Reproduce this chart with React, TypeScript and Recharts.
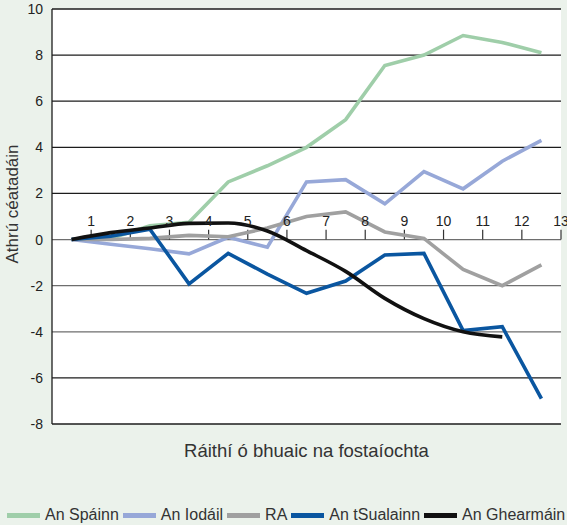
import * as React from "react"
import {
  LineChart,
  Line,
  XAxis,
  YAxis,
  CartesianGrid,
  ReferenceLine,
} from "recharts"

// ráithí (quarters) — points sit in the middle of each quarter band
const quarters = [0.5, 1.5, 2.5, 3.5, 4.5, 5.5, 6.5, 7.5, 8.5, 9.5, 10.5, 11.5, 12.5]
const quarterTicks = [1, 2, 3, 4, 5, 6, 7, 8, 9, 10, 11, 12, 13]
const yTicks = [-8, -6, -4, -2, 0, 2, 4, 6, 8, 10]

const spain = [0, 0.05, 0.6, 0.75, 2.5, 3.2, 4.0, 5.2, 7.55, 8.0, 8.85, 8.55, 8.1]
const italy = [0, -0.2, -0.4, -0.62, 0.1, -0.33, 2.5, 2.6, 1.55, 2.95, 2.2, 3.4, 4.3]
const uk = [0, 0, 0.05, 0.18, 0.12, 0.5, 1.0, 1.2, 0.33, 0.05, -1.3, -2.0, -1.1]
const sweden = [0, 0.15, 0.45, -1.92, -0.6, -1.5, -2.33, -1.8, -0.67, -0.6, -3.95, -3.78, -6.9]
const germany = [0, 0.3, 0.5, 0.7, 0.72, 0.37, -0.48, -1.38, -2.55, -3.43, -4.0, -4.22, null]

const series = [
  { key: "es", name: "An Spáinn", color: "#9fcea9", values: spain },
  { key: "it", name: "An Iodáil", color: "#97a8d8", values: italy },
  { key: "uk", name: "RA", color: "#a0a0a0", values: uk },
  { key: "se", name: "An tSualainn", color: "#0a56a0", values: sweden },
  { key: "de", name: "An Ghearmáin", color: "#111111", values: germany },
]

const data = quarters.map((q, i) => {
  const row: Record<string, number | null> = { q }
  series.forEach((s) => (row[s.key] = s.values[i]))
  return row
})

const gridColor = (v: number) => (v > 0 || v < -4 ? "#1c1c1c" : "#6e6e6e")

const font = "'Liberation Sans', Arial, sans-serif"

function LegendRow() {
  return (
    <div
      style={{
        position: "absolute",
        left: 7,
        top: 505,
        height: 20,
        display: "flex",
        alignItems: "center",
        fontFamily: font,
        fontSize: 16,
        color: "#333",
        whiteSpace: "nowrap",
      }}
    >
      {series.map((s) => (
        <div key={s.key} style={{ display: "flex", alignItems: "center", marginRight: 4 }}>
          <span style={{ width: 33, height: 5, background: s.color, marginRight: 5 }} />
          <span>{s.name}</span>
        </div>
      ))}
    </div>
  )
}

export default function App() {
  return (
    <div style={{ width: 567, height: 525, background: "#ebf2eb", position: "relative", overflow: "hidden" }}>
      <style>{"body{margin:0}"}</style>
      <LineChart
        width={567}
        height={525}
        data={data}
        margin={{ top: 9, right: 6, left: 0, bottom: 101 }}
        style={{ fontFamily: font }}
      >
        <CartesianGrid fill="#ffffff" horizontal={false} vertical={false} />
        <XAxis
          dataKey="q"
          type="number"
          domain={[0, 13]}
          ticks={quarterTicks}
          hide
        />
        <YAxis
          domain={[-8, 10]}
          ticks={yTicks}
          width={52}
          interval={0}
          tickLine={false}
          tickSize={0}
          tickMargin={9}
          axisLine={{ stroke: "#1c1c1c", strokeWidth: 1.3 }}
          tick={{ fill: "#222", fontSize: 14 }}
        />
        {yTicks.map((v) => (
          <ReferenceLine key={"g" + v} y={v} stroke={gridColor(v)} strokeWidth={1.3} />
        ))}
        {quarterTicks.map((t) => (
          <ReferenceLine
            key={"t" + t}
            segment={[
              { x: t, y: 0 },
              { x: t, y: 0.43 },
            ]}
            stroke="#333"
            strokeWidth={1.2}
            ifOverflow="visible"
            label={{ value: String(t), position: "top", offset: 4, fill: "#222", fontSize: 14 }}
          />
        ))}
        {series.map((s) => (
          <Line
            key={s.key}
            dataKey={s.key}
            name={s.name}
            type={s.key === "de" ? "monotone" : "linear"}
            stroke={s.color}
            strokeWidth={3.6}
            dot={false}
            activeDot={false}
            isAnimationActive={false}
          />
        ))}
      </LineChart>
      <div
        style={{
          position: "absolute",
          left: 13,
          top: 204,
          transform: "translate(-50%, -50%) rotate(-90deg)",
          whiteSpace: "nowrap",
          fontFamily: font,
          fontSize: 17,
          color: "#333",
        }}
      >
        Athrú céatadáin
      </div>
      <div
        style={{
          position: "absolute",
          left: 52,
          width: 509,
          top: 440,
          textAlign: "center",
          fontFamily: font,
          fontSize: 18.5,
          color: "#333",
        }}
      >
        Ráithí ó bhuaic na fostaíochta
      </div>
      <LegendRow />
    </div>
  )
}
